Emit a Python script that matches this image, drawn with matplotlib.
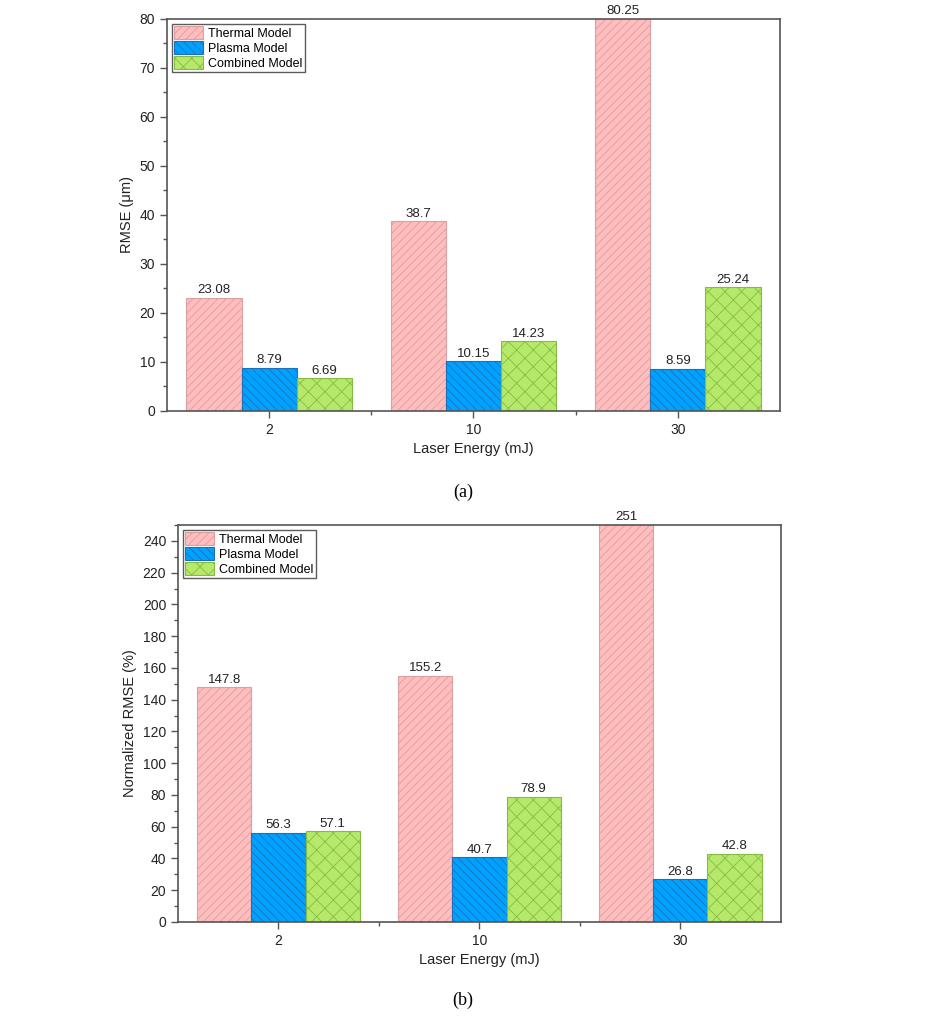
import numpy as np
import matplotlib
matplotlib.use('Agg')
from matplotlib import pyplot as plt
from matplotlib.ticker import MultipleLocator

plt.rcParams['font.family'] = ['Liberation Sans', 'DejaVu Sans']
plt.rcParams['hatch.linewidth'] = 0.6

energies = ['2', '10', '30']
models = ['Thermal Model', 'Plasma Model', 'Combined Model']

rmse_thermal = [23.08, 38.7, 80.25]
rmse_plasma = [8.79, 10.15, 8.59]
rmse_combined = [6.69, 14.23, 25.24]

nrmse_thermal = [147.8, 155.2, 251]
nrmse_plasma = [56.3, 40.7, 26.8]
nrmse_combined = [57.1, 78.9, 42.8]

face = ['#FFBDBD', '#00A2FF', '#B6E86A']
edge = ['#D8A0A0', '#1F6FB8', '#86BC45']
hatches = ['////', '\\\\\\\\', 'xx']
axis_col = '#555555'

fig = plt.figure(figsize=(9.26, 10.30), dpi=100)


def draw(ax, series, ymax, major, minor, ylabel):
    x = np.arange(1, len(energies) + 1)
    w = 0.27
    for i, vals in enumerate(series):
        bars = ax.bar(x + (i - 1) * w, vals, w, color=face[i], edgecolor=edge[i],
                      hatch=hatches[i], linewidth=0.8, label=models[i], zorder=2)
        for b, v in zip(bars, vals):
            ax.text(b.get_x() + b.get_width() / 2, min(v, ymax) + ymax * 0.004, str(v),
                    ha='center', va='bottom', fontsize=9.5, color='#222222', clip_on=False)
    ax.set_xlim(0.5, 3.5)
    ax.set_ylim(0, ymax)
    ax.set_xticks(x)
    ax.set_xticklabels(energies)
    ax.set_xticks([1.5, 2.5], minor=True)
    ax.yaxis.set_major_locator(MultipleLocator(major))
    ax.yaxis.set_minor_locator(MultipleLocator(minor))
    ax.tick_params(axis='both', which='both', direction='out', colors=axis_col,
                   labelcolor='#222222', labelsize=10, top=False, right=False)
    ax.tick_params(which='major', length=5, width=1)
    ax.tick_params(which='minor', length=3, width=1)
    for s in ['top', 'bottom', 'left', 'right']:
        ax.spines[s].set_color(axis_col)
        ax.spines[s].set_linewidth(1.2)
    ax.set_xlabel('Laser Energy (mJ)', fontsize=10.5, color='#222222')
    ax.set_ylabel(ylabel, fontsize=10.5, color='#222222')
    leg = ax.legend(loc='upper left', fontsize=9, frameon=True, fancybox=False,
                    borderpad=0.2, labelspacing=0.1, handlelength=2.3,
                    handleheight=1.2, handletextpad=0.4, borderaxespad=0.4)
    leg.get_frame().set_edgecolor('#333333')
    leg.get_frame().set_linewidth(1.0)


ax1 = fig.add_axes([0.1803, 0.601, 0.662, 0.3806])
draw(ax1, [rmse_thermal, rmse_plasma, rmse_combined], 80, 10, 5, 'RMSE (μm)')

ax2 = fig.add_axes([0.1922, 0.1049, 0.651, 0.3854])
draw(ax2, [nrmse_thermal, nrmse_plasma, nrmse_combined], 250, 20, 10, 'Normalized RMSE (%)')

fig.text(0.5, 1 - 492 / 1030, '(a)', ha='center', va='center', fontsize=13,
         family='Liberation Serif')
fig.text(0.5, 1 - 1000 / 1030, '(b)', ha='center', va='center', fontsize=13,
         family='Liberation Serif')

fig.savefig('out.png', dpi=100)
